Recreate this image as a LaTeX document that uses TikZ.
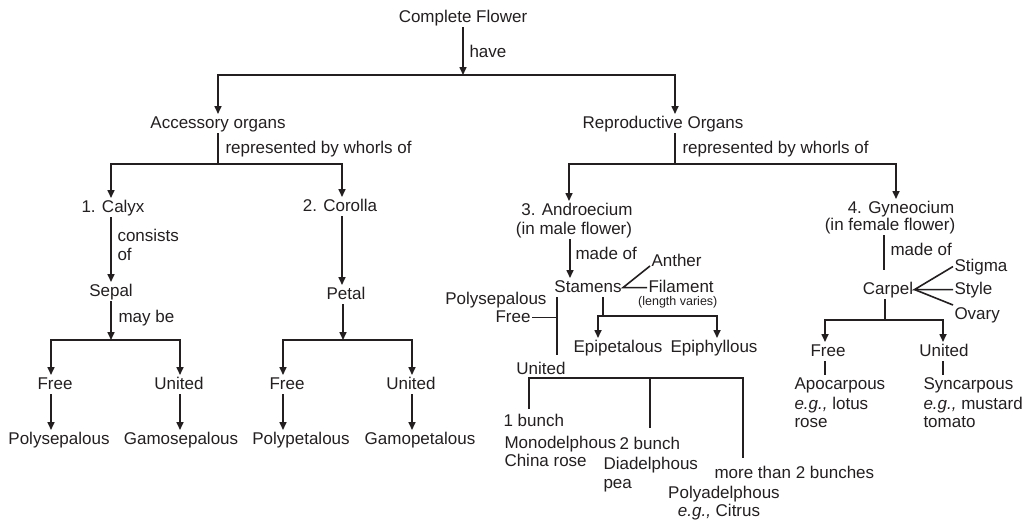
\documentclass[tikz,border=0pt]{standalone}
\usepackage{fontspec}
\setmainfont{Liberation Sans}
\usetikzlibrary{arrows.meta}
\definecolor{ink}{RGB}{35,31,32}
\begin{document}
\begin{tikzpicture}[x=1pt,y=-1pt,
  ln/.style={draw=ink,line width=1.6pt},
  arr/.style={ln,-{Triangle[length=8pt,width=7pt]}},
  t/.style={inner sep=0pt,outer sep=1.5pt,text height=12.5pt,text depth=3.6pt,anchor=base,text=ink,font=\fontsize{17}{19}\selectfont},
  tl/.style={t,anchor=base west},
  tr/.style={t,anchor=base east},
  sm/.style={inner sep=0pt,anchor=base west,text=ink,font=\fontsize{12.5}{14}\selectfont}]
\useasboundingbox (0,0) rectangle (1028,522);

% ---------- top ----------
\node[t] (cf) at (463,22) {Complete Flower};
\node[tl] (have) at (468,57) {have};
\node[t] (acc) at (218,128) {Accessory organs};
\node[t] (rep) at (663,128) {Reproductive Organs};
\coordinate (j0) at (463,75);
\coordinate (j0l) at (218,75);
\coordinate (j0r) at (675,75);
\draw[arr] (cf.south) -- (j0);
\draw[arr] (j0) -- (j0l) -- (j0l |- acc.north);
\draw[arr] (j0) -- (j0r) -- (j0r |- rep.north);

% ---------- accessory organs ----------
\node[tl] (rb1) at (224,153) {represented by whorls of};
\coordinate (j1) at (218,164);
\coordinate (j1l) at (111,164);
\coordinate (j1r) at (342,164);
\draw[ln] (acc.south -| j1) -- (j1);
\node[t] (calyx) at (113,212) {1. Calyx};
\node[t] (corolla) at (340,211) {2. Corolla};
\draw[arr] (j1) -- (j1l) -- (j1l |- calyx.north);
\draw[arr] (j1) -- (j1r) -- (j1r |- corolla.north);

\node[t] (sepal) at (111,296) {Sepal};
\node[t] (petal) at (346,299) {Petal};
\node[tl] (cons1) at (116,241) {consists};
\node[tl] (cons2) at (116,260) {of};
\draw[arr] (calyx.south -| j1l) -- (j1l |- sepal.north);
\draw[arr] (corolla.south -| j1r) -- (j1r |- petal.north);

\node[tl] (maybe) at (117,322) {may be};
\coordinate (j2) at (111,340);
\coordinate (j2l) at (51,340);
\coordinate (j2r) at (180,340);
\coordinate (j3) at (343,340);
\coordinate (j3l) at (283,340);
\coordinate (j3r) at (412,340);
\draw[arr] (sepal.south -| j2) -- (j2);
\draw[arr] (petal.south -| j3) -- (j3);

\node[t] (free1) at (55,389) {Free};
\node[t] (united1) at (179,389) {United};
\node[t] (free2) at (287,389) {Free};
\node[t] (united2) at (411,389) {United};
\draw[arr] (j2) -- (j2l) -- (j2l |- free1.north);
\draw[arr] (j2) -- (j2r) -- (j2r |- united1.north);
\draw[arr] (j3) -- (j3l) -- (j3l |- free2.north);
\draw[arr] (j3) -- (j3r) -- (j3r |- united2.north);

\node[t] (polysep) at (59,444) {Polysepalous};
\node[t] (gamosep) at (181,444) {Gamosepalous};
\node[t] (polypet) at (301,444) {Polypetalous};
\node[t] (gamopet) at (420,444) {Gamopetalous};
\draw[arr] (free1.south -| j2l) -- (j2l |- polysep.north);
\draw[arr] (united1.south -| j2r) -- (j2r |- gamosep.north);
\draw[arr] (free2.south -| j3l) -- (j3l |- polypet.north);
\draw[arr] (united2.south -| j3r) -- (j3r |- gamopet.north);

% ---------- reproductive organs ----------
\node[tl] (rb2) at (681,153) {represented by whorls of};
\coordinate (j4) at (675,164);
\coordinate (j4l) at (569,164);
\coordinate (j4r) at (896,164);
\draw[ln] (rep.south -| j4) -- (j4);
\node[t] (andr1) at (577,215) {3. Androecium};
\node[t] (andr2) at (574,234) {(in male flower)};
\node[t] (gyn1) at (901,213) {4. Gyneocium};
\node[t] (gyn2) at (890,230) {(in female flower)};
\draw[arr] (j4) -- (j4l) -- (j4l |- andr1.north);
\draw[arr] (j4) -- (j4r) -- (j4r |- gyn1.north);

% androecium
\coordinate (ka) at (570,240);
\node[t] (stamens) at (588,292) {Stamens};
\node[tl] (madeof1) at (574,259) {made of};
\draw[arr] (andr2.south -| ka) -- (ka |- stamens.north);
\node[tl] (anther) at (650,266) {Anther};
\node[tl] (filament) at (647,292) {Filament};
\node[sm] (lenvar) at (638,305) {(length varies)};
\draw[ln] (anther.base west) -- (stamens.east) -- (filament.west);

\node[tr] (polA) at (548,304) {Polysepalous};
\node[tr] (freeA) at (532,322) {Free};
\coordinate (pv1) at (557,297);
\coordinate (pv2) at (557,355);
\draw[ln] (pv1) -- (pv2);
\draw[ln] (freeA.east) -- (freeA.east -| pv1);

\coordinate (s0) at (603,316);
\coordinate (s0l) at (598,316);
\coordinate (s0r) at (717,316);
\node[t] (epipet) at (618,352) {Epipetalous};
\node[t] (epiphy) at (714,352) {Epiphyllous};
\draw[ln] (stamens.south -| s0) -- (s0);
\draw[arr] (s0) -- (s0l) -- (s0l |- epipet.north);
\draw[arr] (s0) -- (s0r) -- (s0r |- epiphy.north);

\node[t] (unitedA) at (541,374) {United};
\coordinate (u0) at (529,378);
\coordinate (u1) at (650,378);
\coordinate (u2) at (743,378);
\coordinate (u0b) at (529,409);
\coordinate (u1b) at (650,428);
\coordinate (u2b) at (743,458);
\draw[ln] (u0b) -- (u0) -- (u2) -- (u2b);
\draw[ln] (u1) -- (u1b);

\node[tl] (bunch1) at (502,426) {1 bunch};
\node[tl] (mono1) at (503,448) {Monodelphous};
\node[tl] (mono2) at (503,466) {China rose};
\node[tl] (bunch2) at (618,449) {2 bunch};
\node[tl] (dia1) at (602,469) {Diadelphous};
\node[tl] (dia2) at (602,488) {pea};
\node[tl] (more) at (713,478) {more than 2 bunches};
\node[t] (poly1) at (724,498) {Polyadelphous};
\node[t] (poly2) at (719,516) {\textit{e.g.,} Citrus};

% gyneocium
\coordinate (g0) at (884,270);
\draw[ln] (gyn2.south -| g0) -- (g0);
\node[tl] (madeof2) at (889,255) {made of};
\node[t] (carpel) at (888,294) {Carpel};
\node[tl] (stigma) at (953,271) {Stigma};
\node[tl] (style) at (953,294) {Style};
\node[tl] (ovary) at (953,319) {Ovary};
\draw[ln] (stigma.west) -- (carpel.east) -- (style.west);
\draw[ln] (carpel.east) -- (ovary.north west);

\coordinate (c0) at (885,320);
\coordinate (c0l) at (825,320);
\coordinate (c0r) at (943,320);
\node[t] (freeG) at (828,356) {Free};
\node[t] (unitedG) at (944,356) {United};
\draw[ln] (carpel.south -| c0) -- (c0);
\draw[arr] (c0) -- (c0l) -- (c0l |- freeG.north);
\draw[arr] (c0) -- (c0r) -- (c0r |- unitedG.north);

\node[tl] (apo1) at (793,389) {Apocarpous};
\node[tl] (apo2) at (793,409) {\textit{e.g.,} lotus};
\node[tl] (apo3) at (793,427) {rose};
\node[tl] (syn1) at (922,389) {Syncarpous};
\node[tl] (syn2) at (922,409) {\textit{e.g.,} mustard};
\node[tl] (syn3) at (922,427) {tomato};
\draw[ln] (freeG.south -| c0l) -- (c0l |- apo1.north);
\draw[ln] (unitedG.south -| c0r) -- (c0r |- syn1.north);
\end{tikzpicture}
\end{document}
